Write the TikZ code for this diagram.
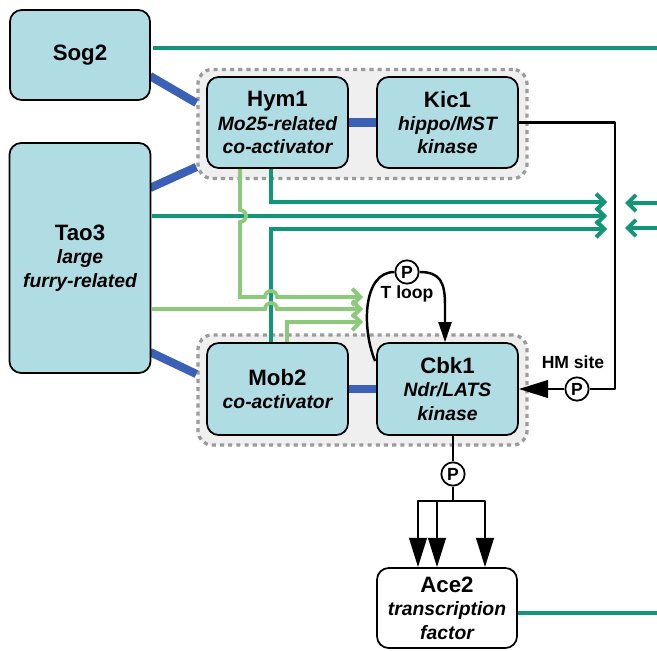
\documentclass[tikz,border=0pt]{standalone}
\usepackage{fontspec}
\setmainfont{Liberation Sans}
\usetikzlibrary{arrows.meta,calc}

\definecolor{boxblue}{RGB}{176,220,228}
\definecolor{bindblue}{RGB}{58,96,184}
\definecolor{sigteal}{RGB}{18,150,120}
\definecolor{siglight}{RGB}{141,201,122}
\definecolor{grpfill}{RGB}{239,239,239}
\definecolor{grpdash}{RGB}{155,155,155}

\newcommand\ttlf{\fontsize{19}{22}\selectfont\bfseries\upshape}
\newcommand\subf{\fontsize{16.5}{20}\selectfont\bfseries\itshape}

\tikzset{
  prot/.style={draw=black, line width=1.5pt, rounded corners=10pt, fill=boxblue,
    minimum width=4.23cm, minimum height=2.73cm, align=center, inner sep=0pt, font=\subf},
  grp/.style={draw=grpdash, fill=grpfill, line width=2.8pt, dash pattern=on 3.5pt off 3.5pt,
    rounded corners=12pt, minimum width=9.87cm, minimum height=3.27cm, inner sep=0pt},
  bind/.style={bindblue, line width=7pt},
  tealln/.style={sigteal, line width=3.4pt},
  lightln/.style={siglight, line width=3.2pt},
  barb/.style={-{Straight Barb[length=7pt,width=14pt]}},
  blk/.style={black, line width=2.1pt, line join=round},
  tri/.style={-{Triangle[length=25pt,width=15pt]}},
  pcirc/.style={circle, draw=black, line width=1.5pt, fill=white, inner sep=0pt,
    minimum size=0.7cm, font=\fontsize{15}{17}\selectfont\bfseries},
  lbl/.style={font=\fontsize{15}{17}\selectfont\bfseries, inner sep=1pt}
}

\begin{document}
\begin{tikzpicture}[x=0.03cm, y=-0.03cm]
  \useasboundingbox (0,0) rectangle (657,650);

  %complexes
  \node[grp] (top) at (362.5,124) {};
  \node[grp, minimum height=3.3cm] (bot) at (362.5,390) {};

  %binding
  \draw[bind] (150,76) -- ($(top.west)+(0,-21)$);
  \draw[bind] (150,188) -- ($(top.west)+(0,43)$);
  \draw[bind] (150,352) -- ($(bot.west)+(0,-16)$);

  %teal signals
  \coordinate (e1) at (607,202);
  \coordinate (e2) at (607,216);
  \coordinate (e3) at (607,229);
  \draw[tealln] (153,48) -- (657,48);
  \draw[tealln,barb] (271,168) |- (e1);
  \draw[tealln,barb] (152,216) -- (e2);
  \draw[tealln,barb] (271,343) |- (e3);
  \foreach \y in {203,228}{
    \draw[tealln,barb] (657,\y) -- (625,\y);
  }

  %light green signals
  \coordinate (g1) at (363,297);
  \coordinate (g2) at (363,309);
  \coordinate (g3) at (363,322);
  \draw[lightln,barb] (240,168) -- (240,210) arc(-90:90:6) -- (240,297) -- (265,297) arc(180:360:6) -- (g1);
  \draw[lightln,barb] (152,309) -- (265,309) arc(180:360:6) -- (g2);
  \draw[lightln,barb] (287,343) |- (g3);

  %proteins
  \node[prot, minimum width=4.2cm, minimum height=2.7cm] (sog) at (80,55) {\ttlf Sog2};
  \node[prot, minimum height=6.9cm] (tao) at (80,258) {{\ttlf Tao3}\\large\\furry-related};
  \node[prot] (hym) at (277.5,122.5) {{\ttlf Hym1}\\Mo25-related\\co-activator};
  \node[prot] (kic) at (447.5,122.5) {{\ttlf Kic1}\\hippo/MST\\kinase};
  \node[prot, minimum height=2.76cm] (mob) at (277.5,389) {{\ttlf Mob2}\\co-activator};
  \node[prot, minimum height=2.76cm] (cbk) at (447.5,389) {{\ttlf Cbk1}\\Ndr/LATS\\kinase};
  \node[prot, fill=white, minimum width=4.2cm, minimum height=2.4cm] (ace) at (447,608) {{\ttlf Ace2}\\transcription\\factor};

  \draw[bind] (hym.east) -- (kic.west);
  \draw[bind] (mob.east) -- (cbk.west);
  \draw[tealln] ($(ace.east)+(0,5)$) -- (657,613);

  %phosphorylation
  \node[pcirc] (pT) at (407,272) {P};
  \node[pcirc] (pH) at (577,389) {P};
  \node[pcirc] (pA) at (453,474) {P};
  \node[lbl] (tloop) at (407,294) {T loop};
  \node[lbl] (hmsite) at (573,362) {HM site};

  \draw[blk] ($(cbk.north west)+(-1,19)$) .. controls (362,330) and (362,272) .. (pT.west);
  \draw[blk,-{Triangle[length=17pt,width=11pt]}] (pT.east) .. controls (440,272) and (445,282) .. (445,305) -- ($(cbk.north)+(-2.5,0)$);

  \coordinate (hmc) at (615,389);
  \draw[blk] (kic.east) -| (hmc) -- (pH);
  \draw[blk,tri] (pH) -- (cbk.east);

  \coordinate (spl) at (453,501);
  \draw[blk] ($(cbk.south)+(5.5,0)$) -- (pA);
  \draw[blk] (pA) -- (spl);
  \foreach \dx in {-35,-16,32}{
    \draw[blk,tri] (spl) -| ($(ace.north)+(\dx+6,0)$);
  }

\end{tikzpicture}
\end{document}
